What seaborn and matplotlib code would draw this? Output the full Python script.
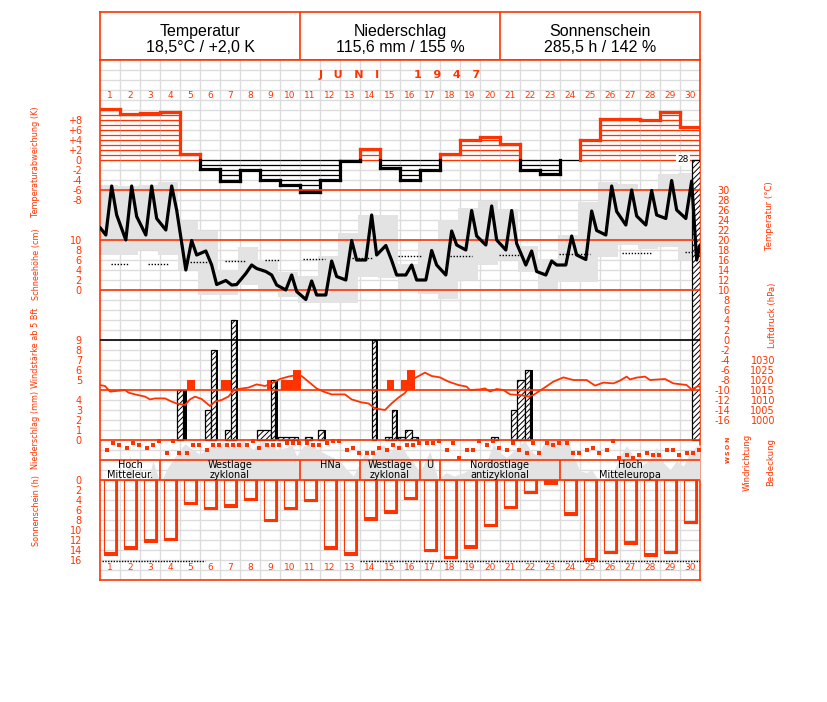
import numpy as np
import pandas as pd
import matplotlib
matplotlib.use("Agg")
import matplotlib.pyplot as plt
import seaborn as sns

sns.set_theme(style="white")
plt.rcParams['font.family'] = ['DejaVu Sans']
plt.rcParams['hatch.linewidth'] = 0.7
plt.rcParams['hatch.color'] = 'black'

RED = '#ff3300'
GRAY = '#e3e3e3'
GRIDC = '#dcdcdc'

# ------------------------------------------------------------------ data
days = list(range(1, 31))
header_titles = ["Temperatur", "Niederschlag", "Sonnenschein"]
header_values = ["18,5°C / +2,0 K", "115,6 mm / 155 %", "285,5 h / 142 %"]
month_title = "J   U   N   I         1   9   4   7"

# daily temperature anomaly (K)
anomaly = [10.1, 9.2, 9.3, 9.5, 1.1, -1.8, -4.3, -2.0, -4.0, -5.1, -6.5, -4.0, -0.2, 2.2, -1.7,
           -4.0, -2.0, 1.1, 4.0, 4.5, 3.1, -2.0, -2.8, 0.0, 4.0, 8.1, 8.1, 7.9, 9.5, 6.5]

# observations (°C) at 7, 14, 20 h
obs_hours = [7, 14, 20]
temp_7h = [21.0, 20.0, 21.0, 22.0, 14.0, 17.8, 11.9, 13.3, 13.7, 10.0, 8.1, 9.0, 12.0, 16.0, 18.9,
           13.0, 12.0, 13.0, 18.0, 19.0, 18.0, 15.0, 13.0, 15.0, 16.1, 21.0, 23.0, 23.0, 24.3, 24.3]
temp_14h = [30.8, 30.8, 30.8, 30.8, 19.9, 15.0, 11.0, 15.0, 13.0, 13.0, 11.8, 15.8, 19.9, 25.0, 15.9,
            15.0, 17.9, 21.8, 25.9, 26.8, 25.9, 17.8, 15.8, 20.8, 25.8, 30.8, 30.0, 29.9, 31.9, 31.8]
temp_20h = [25.0, 24.7, 24.3, 26.0, 17.0, 11.1, 11.1, 14.3, 11.0, 9.7, 9.0, 12.7, 16.0, 17.0, 13.0,
            12.0, 15.0, 19.0, 20.8, 20.0, 19.3, 13.7, 15.0, 17.0, 21.9, 25.7, 24.8, 25.0, 26.0, 16.0]
temp_start, temp_end = 22.5, 19.0

# daily min / max temperature (°C)
tmax = [31.0, 30.8, 31.0, 31.7, 23.9, 21.9, 14.0, 18.7, 16.0, 13.7, 12.8, 16.8, 21.5, 25.1, 25.0,
        15.3, 19.7, 24.1, 26.5, 27.9, 26.3, 18.8, 16.3, 21.1, 27.7, 31.7, 31.3, 30.1, 33.2, 33.5]
tmin = [17.0, 17.0, 18.0, 17.0, 14.0, 9.0, 9.0, 11.0, 9.7, 8.7, 7.5, 7.5, 7.5, 12.7, 12.4,
        10.3, 9.3, 8.3, 12.0, 15.0, 16.0, 13.7, 10.3, 11.7, 11.7, 16.7, 19.0, 18.3, 18.7, 16.0]
minmax_shift = -0.1   # climatological day starts in the evening

# normal mean temperature (dotted segments)
norm_t0 = [0.55, 2.4, 4.35, 6.25, 8.25, 10.15, 12.6, 14.9, 17.5, 19.95, 22.95, 26.1, 29.25]
norm_t1 = [1.4, 3.4, 5.35, 7.25, 9.0, 11.25, 13.65, 16.05, 18.6, 21.1, 24.5, 27.6, 29.85]
norm_val = [15.2, 15.2, 15.5, 15.8, 16.0, 16.1, 16.3, 16.7, 16.8, 17.0, 17.2, 17.3, 17.5]

# precipitation (mm), step profile within the rain events
precip_t0 = [3.87, 5.25, 5.55, 6.25, 6.55, 7.87, 8.55, 8.92, 10.25, 10.88, 13.58, 14.25, 14.58,
             14.92, 15.25, 15.62, 19.55, 20.55, 20.87, 21.25, 29.6]
precip_t1 = [4.17, 5.55, 5.78, 6.55, 6.8, 8.55, 8.75, 9.88, 10.62, 11.18, 13.78, 14.58, 14.8,
             15.25, 15.62, 15.92, 19.92, 20.87, 21.25, 21.5, 30.0]
precip_mm = [5.0, 3.0, 9.0, 1.0, 12.0, 1.0, 6.0, 0.3, 0.3, 1.0, 10.0, 0.3, 3.0,
             0.3, 1.0, 0.3, 0.3, 3.0, 6.0, 7.0, 28.0]
shadow_t0 = [4.17, 5.78, 6.8, 8.75, 11.18, 13.78, 14.8, 21.5]
shadow_t1 = [4.33, 5.92, 6.92, 8.92, 11.28, 13.92, 14.92, 21.63]
shadow_mm = [5.0, 9.0, 12.0, 6.0, 1.0, 10.0, 3.0, 7.0]
precip_cut_label = "28"

# wind force >= 5 Bft
wind_t0 = [4.37, 6.05, 8.33, 9.05, 9.67, 14.35, 15.05, 15.33]
wind_t1 = [4.75, 6.72, 8.83, 9.67, 10.05, 14.72, 15.33, 15.75]
wind_bft = [5, 5, 5, 5, 6, 5, 5, 6]

# air pressure (hPa)
press_t = [0.0, 0.25, 0.5, 1.0, 1.25, 1.42, 1.75, 2.25, 2.5, 2.75, 3.25, 3.58, 3.83, 4.25, 4.5,
           4.75, 5.08, 5.5, 5.75, 6.08, 6.42, 6.67, 6.92, 7.42, 7.83, 8.25, 8.58, 9.0, 9.42, 9.75,
           10.08, 10.42, 10.83, 11.17, 11.58, 12.25, 12.58, 13.08, 13.42, 13.75, 14.25, 14.58,
           14.92, 15.25, 15.75, 16.25, 16.58, 17.0, 17.42, 17.92, 18.33, 18.5, 19.0, 19.25, 19.5,
           19.83, 20.17, 20.5, 21.0, 21.42, 21.67, 22.17, 22.67, 23.17, 23.67, 24.33, 24.75,
           25.17, 25.67, 26.0, 26.33, 26.5, 26.83, 27.25, 27.5, 28.25, 28.67, 29.33, 29.58,
           29.92, 30.0]
press_hpa = [1017.5, 1017.0, 1014.2, 1014.7, 1015.0, 1013.7, 1012.8, 1011.7, 1010.3, 1010.8,
             1010.8, 1009.2, 1008.3, 1007.5, 1010.3, 1011.7, 1010.5, 1007.0, 1009.2, 1010.0,
             1011.7, 1014.7, 1015.5, 1016.2, 1017.8, 1017.0, 1018.3, 1020.5, 1021.7, 1022.3,
             1022.0, 1019.2, 1015.8, 1014.2, 1012.8, 1012.8, 1010.3, 1008.8, 1008.3, 1005.8,
             1005.0, 1008.3, 1011.2, 1013.5, 1021.0, 1023.7, 1022.0, 1021.3, 1019.2, 1017.5,
             1016.7, 1015.0, 1015.3, 1015.8, 1014.2, 1015.5, 1015.0, 1012.8, 1012.5, 1011.7,
             1012.5, 1015.8, 1019.2, 1021.3, 1020.0, 1020.0, 1017.2, 1018.7, 1018.3, 1019.7,
             1021.7, 1020.3, 1021.2, 1021.7, 1020.0, 1020.5, 1018.3, 1017.5, 1015.3, 1017.0,
             1016.5]

# wind direction (degrees) at 7, 14, 21 h
dir_7h = [150, 115, 115, 175, 175, 150, 90, 90, 90, 60, 60, 60, 150, 175, 150,
          90, 60, 150, 150, 90, 150, 175, 60, 60, 150, 150, 210, 175, 150, 175]
dir_14h = [60, 60, 90, 40, 90, 90, 90, 40, 90, 60, 90, 40, 115, 175, 90,
           90, 60, 60, 150, 40, 60, 60, 90, 175, 115, 40, 235, 210, 150, 175]
dir_21h = [90, 90, 40, 175, 90, 90, 90, 115, 90, 60, 90, 40, 175, 115, 115,
           60, 40, 235, 40, 115, 150, 175, 60, 175, 175, 235, 210, 210, 210, 150]
dir_hours = [7, 14, 21]

# cloud cover (octas)
cloud_t = [0, 1.3, 1.5, 1.7, 2.4, 2.65, 2.95, 3.1, 3.33, 3.67, 4.0, 4.25, 4.5, 5.0, 5.25, 5.5,
           5.83, 6.17, 6.6, 6.83, 7.17, 7.4, 7.67, 7.9, 8.17, 8.5, 8.83, 9.33, 9.58, 9.83,
           10.17, 10.5, 11.0, 11.5, 12.0, 12.33, 12.67, 13.0, 13.25, 13.5, 13.83, 14.17, 14.5,
           14.75, 15.0, 15.33, 15.67, 16.0, 16.5, 16.9, 17.3, 17.7, 18.2, 18.7, 19.0, 19.33,
           19.67, 20.0, 20.33, 20.67, 21.0, 21.25, 21.5, 21.75, 22.0, 22.25, 22.5, 23.33, 23.5,
           23.67, 24.0, 24.33, 24.58, 24.83, 25.17, 25.67, 26.0, 26.33, 26.67, 27.0, 27.33,
           27.58, 27.83, 28.17, 28.5, 28.83, 29.17, 29.5, 29.83, 30.0]
cloud_oct = [0, 0, 5.0, 0, 0, 3.8, 0, 0, 2.1, 4.2, 6.1, 7.2, 6.5, 5.1, 6.1, 6.8,
             6.8, 7.5, 6.5, 7.5, 8.0, 6.8, 6.1, 7.3, 7.8, 7.1, 6.1, 6.5, 7.1, 4.8,
             6.8, 7.1, 5.8, 4.8, 3.8, 2.1, 0.8, 3.5, 5.5, 4.1, 5.8, 7.1, 5.5,
             6.8, 7.3, 5.1, 3.5, 1.5, 5.8, 0.1, 1.5, 0.8, 1.5, 2.8, 3.1, 3.8,
             7.1, 5.5, 4.5, 5.8, 7.1, 7.8, 6.1, 5.1, 5.8, 7.8, 8.0, 8.0, 6.8,
             4.8, 1.8, 1.5, 2.1, 0.5, 0.0, 1.5, 4.8, 6.8, 4.8, 2.8, 3.5,
             4.8, 6.5, 3.5, 2.1, 3.8, 2.8, 5.5, 6.8, 7.1]

# weather types
wt_start = [0, 3, 10, 13, 16, 17, 23]
wt_end = [3, 10, 13, 16, 17, 23, 30]
wt_names = ["Hoch\nMitteleur.", "Westlage\nzyklonal", "HNa", "Westlage\nzyklonal", "U",
            "Nordostlage\nantizyklonal", "Hoch\nMitteleuropa"]

# sunshine (h)
sunshine = [14.9, 13.7, 12.3, 12.0, 4.9, 5.9, 5.4, 4.1, 8.2, 5.9, 4.3, 13.7, 14.9, 7.9, 6.6,
            3.9, 14.2, 15.6, 13.5, 9.2, 5.7, 2.7, 0.8, 6.9, 16.0, 14.6, 12.7, 15.1, 14.6, 8.6]
sun_possible = 16.2
sun_line_t0 = [0.08, 13.0]
sun_line_t1 = [5.25, 30.0]

# axis labels / ticks
left_labels = ["Temperaturabweichung (K)", "Schneehöhe (cm)", "Windstärke ab 5 Bft",
               "Niederschlag (mm)", "Sonnenschein (h)"]
left_label_y = [162, 264, 348, 430, 510]
right_labels = ["Temperatur (°C)", "Luftdruck (hPa)", "Windrichtung", "Bedeckung"]
right_label_x = [770, 772, 747, 771]
right_label_y = [216, 315, 462, 462]
compass = ["N", "O", "S", "W"]

# ------------------------------------------------------------------ layout
W, H = 827, 702
fig = plt.figure(figsize=(W / 100, H / 100), dpi=100)


def frect(x0, y0, x1, y1):
    return [x0 / W, 1 - y1 / H, (x1 - x0) / W, (y1 - y0) / H]


def lims(zero_px, ppu):
    # value v is drawn at pixel row zero_px - v * ppu ; axes spans rows 60..580
    return ((zero_px - 580) / ppu, (zero_px - 60) / ppu)


def yfrac(py):
    return (580 - py) / 520


# header
hax = fig.add_axes(frect(100, 12, 700, 60))
hax.set_xlim(0, 3)
hax.set_ylim(0, 1)
hax.set_xticks([])
hax.set_yticks([])
for s in hax.spines.values():
    s.set_color(RED)
    s.set_linewidth(1.2)
hax.vlines([1, 2], 0, 1, color=RED, lw=1.2)
for i, (t, v) in enumerate(zip(header_titles, header_values)):
    hax.text(i + 0.5, 0.6, t, ha='center', va='center', fontsize=11.5,
             family=['Liberation Sans', 'DejaVu Sans'], color='black')
    hax.text(i + 0.5, 0.25, v, ha='center', va='center', fontsize=11.5,
             family=['Liberation Sans', 'DejaVu Sans'], color='black')

# main axes (temperature scale, also used for the grid)
ax = fig.add_axes(frect(100, 60, 700, 580))
ax.set_xlim(0, 30)
ax.set_ylim(*lims(340, 5))
ax.set_xticks([])
ax.set_yticks([])
for k, s in ax.spines.items():
    s.set_color(RED)
    s.set_linewidth(1.2)
ax.vlines(np.arange(1, 30), -48, 56, color=GRIDC, lw=1, zorder=0)
ax.hlines(np.arange(-46, 56, 2), 0, 30, color=GRIDC, lw=1, zorder=0)

# min/max band
edges = [d - 1 + minmax_shift for d in days] + [30]
ax.fill_between(edges, tmin + [tmin[-1]], tmax + [tmax[-1]], step='post', color=GRAY, lw=0, zorder=1)

xtr = ax.get_xaxis_transform()
ax.text(15, yfrac(75), month_title, transform=xtr, ha='center', va='center', color=RED,
        fontsize=8, fontweight='bold')
for d in days:
    ax.text(d - 0.5, yfrac(96), str(d), transform=xtr, ha='center', va='center', color=RED, fontsize=6.5)
    ax.text(d - 0.5, yfrac(567), str(d), transform=xtr, ha='center', va='center', color=RED, fontsize=6.5)


def twin(lim):
    t = ax.twinx()
    t.set_ylim(*lim)
    for s in t.spines.values():
        s.set_visible(False)
    t.set_yticks([])
    t.grid(False)
    return t


def left_ticks(t, vals, labels):
    t.yaxis.tick_left()
    t.set_yticks(vals)
    t.set_yticklabels(labels)
    t.tick_params(axis='y', length=0, pad=13, labelcolor=RED, labelsize=7)


def right_ticks(t, vals, labels, pad):
    t.yaxis.tick_right()
    t.set_yticks(vals)
    t.set_yticklabels(labels)
    t.tick_params(axis='y', length=0, pad=pad, labelcolor=RED, labelsize=7)
    for lab in t.get_yticklabels():
        lab.set_horizontalalignment('right')


# cloud cover
ax_c = twin(lims(480, 5))
ax_c.fill_between(cloud_t, 0, cloud_oct, color=GRAY, lw=0, zorder=1)
ax_c.axhline(0, color=RED, lw=1.2, zorder=3)
ax_c.axhline(4, color=RED, lw=1.2, zorder=3)
ax_c.vlines(wt_start[1:], 0, 4, color=RED, lw=1.2, zorder=3)

# anomaly
ax_a = twin(lims(160, 5))
for i, a in enumerate(anomaly):
    x0, x1 = i, i + 1
    col = RED if a > 0 else 'black'
    n = int(np.floor(abs(a)))
    levels = np.sign(a) * np.arange(0, n + 1) if a != 0 else np.array([0.0])
    ax_a.hlines(levels, x0, x1, color=col, lw=0.9, zorder=2)
    if a != 0:
        ax_a.plot([x0, x1], [a, a], color=col, lw=2.3, solid_capstyle='projecting', zorder=3)
for i in range(len(anomaly) - 1):
    a1, a2 = anomaly[i], anomaly[i + 1]
    lo, hi = min(a1, a2), max(a1, a2)
    if hi > 0:
        ax_a.plot([i + 1, i + 1], [max(lo, 0), hi], color=RED, lw=2.3, solid_capstyle='projecting', zorder=3)
    if lo < 0:
        ax_a.plot([i + 1, i + 1], [lo, min(hi, 0)], color='black', lw=2.3, solid_capstyle='projecting', zorder=3)
left_ticks(ax_a, [8, 6, 4, 2, 0, -2, -4, -6, -8], ["+8", "+6", "+4", "+2", "0", "-2", "-4", "-6", "-8"])

# snow depth (no snow, ticks only)
ax_s = twin(lims(290, 5))
left_ticks(ax_s, [10, 8, 6, 4, 2, 0], ["10", "8", "6", "4", "2", "0"])

# wind force
ax_w = twin(lims(430, 10))
ax_w.bar(wind_t0, np.array(wind_bft) - 4, width=np.array(wind_t1) - np.array(wind_t0), bottom=4,
         align='edge', color=RED, lw=0, zorder=2)
left_ticks(ax_w, [9, 8, 7, 6, 5], ["9", "8", "7", "6", "5"])

# precipitation
ax_pr = twin(lims(440, 10))
ax_pr.bar(precip_t0, precip_mm, width=np.array(precip_t1) - np.array(precip_t0), align='edge',
          facecolor='white', edgecolor='black', hatch='//////', lw=0.9, zorder=2)
ax_pr.bar(shadow_t0, shadow_mm, width=np.array(shadow_t1) - np.array(shadow_t0), align='edge',
          color='black', lw=0, zorder=3)
ax_pr.axhline(0, color=RED, lw=1.2, zorder=4)
ax_pr.text(precip_t0[-1] - 0.15, precip_mm[-1], precip_cut_label, ha='right', va='center', fontsize=6.5,
           color='black', zorder=5, bbox=dict(facecolor='white', edgecolor='none', pad=1.0))
left_ticks(ax_pr, [4, 3, 2, 1, 0], ["4", "3", "2", "1", "0"])

# pressure
ax_p = twin(lims(2420, 2))
ax_p.axhline(1015, color=RED, lw=1.2, zorder=2)
sns.lineplot(x=press_t, y=press_hpa, ax=ax_p, color=RED, lw=1.3, estimator=None, sort=False, zorder=3)
ax_p.set_ylabel("")
right_ticks(ax_p, [1030, 1025, 1020, 1015, 1010, 1005, 1000],
            ["1030", "1025", "1020", "1015", "1010", "1005", "1000"], 54)

# temperature
ax_t = twin(lims(340, 5))
for v in (30, 20, 10):
    ax_t.axhline(v, color=RED, lw=1.2, zorder=2)
ax_t.axhline(0, color='black', lw=1.2, zorder=2)
ax_t.hlines(norm_val, norm_t0, norm_t1, colors='black', linestyles=(0, (1, 1.2)), lw=1, zorder=3)
obs_t = [temp_start]
t_list = [0.0]
for i, d in enumerate(days):
    for h, arr in zip(obs_hours, (temp_7h, temp_14h, temp_20h)):
        t_list.append(d - 1 + h / 24)
        obs_t.append(arr[i])
t_list.append(30.0)
obs_t.append(temp_end)
tdf = pd.DataFrame({"t": t_list, "T": obs_t})
sns.lineplot(data=tdf, x="t", y="T", ax=ax_t, color='black', lw=2.3, estimator=None, sort=False, zorder=4)
ax_t.set_ylabel("")
ax_t.set_xlabel("")
right_ticks(ax_t, list(range(30, -17, -2)), [str(v) for v in range(30, -17, -2)], 21.6)

# wind direction
ax_d = twin((1704, -4536))
dt, dv = [], []
for i, d in enumerate(days):
    for h, arr in zip(dir_hours, (dir_7h, dir_14h, dir_21h)):
        dt.append(d - 1 + h / 24 + 0.08)
        dv.append(arr[i])
sns.scatterplot(x=dt, y=dv, ax=ax_d, marker='s', s=9, color=RED, linewidth=0, zorder=4)
ax_d.set_ylim(1704, -4536)

# sunshine
ax_sun = twin((20, -84))
sun_left = np.array(days) - 1 + 0.2
bw = 0.63
ax_sun.bar(sun_left, sunshine, width=bw, align='edge', fill=False, edgecolor=RED, lw=0.8, zorder=3)
ax_sun.vlines(sun_left + bw - 0.05, 0, sunshine, color=RED, lw=2.0, zorder=3)
ax_sun.hlines(np.array(sunshine) - 0.3, sun_left, sun_left + bw, color=RED, lw=2.2, zorder=3)
ax_sun.hlines([sun_possible] * 2, sun_line_t0, sun_line_t1, colors='black', linestyles=(0, (1, 1)), lw=1, zorder=3)
left_ticks(ax_sun, list(range(0, 17, 2)), [str(v) for v in range(0, 17, 2)])
ax_sun.set_ylim(20, -84)

# weather type names (on top of the cloud shading)
xtr2 = ax_sun.get_xaxis_transform()
for s, e, n in zip(wt_start, wt_end, wt_names):
    yy = yfrac(470) if "\n" in n else yfrac(465)
    ax_sun.text((s + e) / 2, yy, n, transform=xtr2, ha='center', va='center', color='black',
                fontsize=7, linespacing=0.95, zorder=6)

# rotated side labels
for txt, yc in zip(left_labels, left_label_y):
    fig.text(36 / W, 1 - yc / H, txt, rotation=90, ha='center', va='center', color=RED,
             fontsize=6.5, family='DejaVu Sans', fontstretch='condensed')
for txt, xc, yc in zip(right_labels, right_label_x, right_label_y):
    fig.text(xc / W, 1 - yc / H, txt, rotation=90, ha='center', va='center', color=RED,
             fontsize=6.8, family='DejaVu Sans', fontstretch='condensed')
for c, yc in zip(compass, [439, 446, 453, 460]):
    fig.text(728 / W, 1 - yc / H, c, rotation=90, ha='center', va='center', color=RED,
             fontsize=4.5, fontweight='bold')

fig.savefig("out.png", dpi=100)
